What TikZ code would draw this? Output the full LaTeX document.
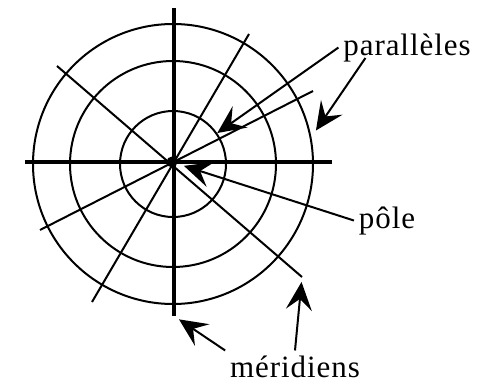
\documentclass[tikz,border=0pt]{standalone}
\usepackage{fontspec}
\setmainfont{Liberation Serif}[LetterSpace=3]
\usetikzlibrary{arrows.meta}

\begin{document}
\begin{tikzpicture}[x=1pt, y=-1pt, line width=2pt,
  ring/.style={draw, circle, inner sep=0pt},
  axis/.style={line width=3.2pt},
  lab/.style={font=\fontsize{31}{36}\selectfont, inner sep=4pt, anchor=base},
  a/.style={-{Stealth[length=28pt, width=26pt, inset=11pt]}, line width=2pt}]
\useasboundingbox (0,0) rectangle (489,383);

% ---------------- parallels (circles) and meridians
\node[ring, minimum size=280pt] (outer) at (173,164) {};
\node[ring, minimum size=206pt] (middle) at (173,164) {};
\node[ring, minimum size=106pt] (inner) at (173,164) {};

\coordinate (ax-n) at (174,8);   \coordinate (ax-s) at (174,316);
\coordinate (ax-w) at (25,162);  \coordinate (ax-e) at (332,162);
\coordinate (n1) at (249,34);    \coordinate (s1) at (92,302);
\coordinate (n2) at (57,66);     \coordinate (s2) at (302,277);
\coordinate (n3) at (313,91);    \coordinate (s3) at (40,230);
\draw[axis] (ax-n) -- (ax-s); \draw[axis] (ax-w) -- (ax-e);
\draw (n1) -- (s1); \draw (n2) -- (s2); \draw (n3) -- (s3);
\node[circle, fill, inner sep=0pt, minimum size=11pt] (dot) at (172,162) {};

% ---------------- labels and arrows
\node[lab] (par) at (407,55) {parallèles};
\node[lab] (pol) at (387,228) {pôle};
\node[lab] (mer) at (295,377) {méridiens};
\draw[a] (par.west) -- (inner.35);
\draw[a, shorten >=8pt] ([shift={(27,3)}]par.base west) -- (outer.11);
\draw[a, shorten >=6pt] (pol.west) -- (dot);
\draw[a, shorten >=6pt] (mer.north west) -- (ax-s);
\draw[a, shorten >=5pt] (mer.north) -- (s2);
\end{tikzpicture}
\end{document}
